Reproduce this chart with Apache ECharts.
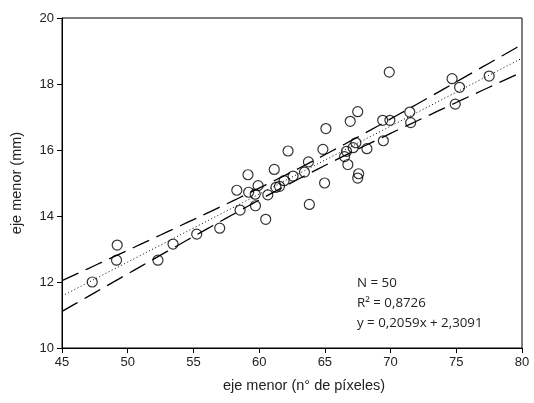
<!DOCTYPE html>
<html>
<head>
<meta charset="utf-8">
<script src="https://cdn.jsdelivr.net/npm/echarts@6/dist/echarts.min.js"></script>
<style>html,body{margin:0;padding:0;background:#fff}#c{width:534px;height:403px}</style>
</head>
<body>
<div id="c"></div>
<script>
// Scatter data
const xValues = [47.3,49.2,49.15,52.3,53.45,55.25,57.0,58.55,58.3,59.15,59.2,59.92,59.7,59.72,60.5,60.66,61.15,61.28,61.55,61.9,62.2,62.58,63.45,63.75,63.82,64.98,64.85,65.08,66.5,66.65,66.75,67.15,67.36,66.93,67.5,67.57,67.5,68.2,69.4,69.95,69.45,69.9,71.46,71.53,74.68,75.25,74.92,77.5];
const yValues = [12.0,13.12,12.66,12.66,13.15,13.45,13.63,14.18,14.78,15.25,14.72,14.92,14.66,14.31,13.9,14.64,15.41,14.87,14.9,15.07,15.97,15.21,15.33,15.64,14.35,15.0,16.02,16.65,15.8,15.96,15.56,16.07,16.22,16.87,17.16,15.28,15.15,16.04,16.9,16.9,16.28,18.36,17.15,16.83,18.16,17.9,17.39,18.24];
// Regression stated on the chart
const slope = 0.2059;
const intercept = 2.3091;
const xTicks = [45,50,55,60,65,70,75,80];
const yTicks = [10,12,14,16,18,20];
const statLines = ['N = 50','R\u00b2 = 0,8726','y = 0,2059x + 2,3091'];

const n = xValues.length;
const xbar = xValues.reduce((a,b)=>a+b,0)/n;
let sxx = 0, ssr = 0;
for (let i=0;i<n;i++){ sxx += (xValues[i]-xbar)**2; const r = yValues[i]-(slope*xValues[i]+intercept); ssr += r*r; }
const s = Math.sqrt(ssr/(n-2));
const tval = 2.011;
const fit = [], upper = [], lower = [];
for (let x = xTicks[0]; x <= xTicks[xTicks.length-1]+1e-9; x += 0.5) {
  const yh = slope*x + intercept;
  const hw = tval*s*Math.sqrt(1/n + (x-xbar)**2/sxx);
  fit.push([x, yh]); upper.push([x, yh+hw]); lower.push([x, yh-hw]);
}
const pts = xValues.map((x,i)=>[x,yValues[i]]);

const chart = echarts.init(document.getElementById('c'), null, {renderer:'canvas'});
const lab = {color:'#222', fontFamily:'Liberation Sans, Arial, sans-serif', fontSize:13};
chart.setOption({
  animation:false,
  grid:{left:62, right:12, top:18, bottom:55, show:true, borderColor:'#000', borderWidth:1},
  xAxis:{type:'value', min:45, max:80, interval:5,
    name:'eje menor (n\u00b0 de p\u00edxeles)', nameLocation:'middle', nameGap:30,
    nameTextStyle:{color:'#222', fontFamily:'Liberation Sans, Arial, sans-serif', fontSize:14.5, padding:[0,0,0,24]},
    axisLine:{show:true, lineStyle:{color:'#000', width:1}},
    axisTick:{show:true, inside:false, length:5, lineStyle:{color:'#000'}},
    axisLabel:Object.assign({margin:8}, lab),
    splitLine:{show:false}},
  yAxis:{type:'value', min:10, max:20, interval:2,
    name:'eje menor (mm)', nameLocation:'middle', nameGap:38, nameRotate:90,
    nameTextStyle:{color:'#222', fontFamily:'Liberation Sans, Arial, sans-serif', fontSize:14.5},
    axisLine:{show:true, lineStyle:{color:'#000', width:1}},
    axisTick:{show:true, inside:false, length:5, lineStyle:{color:'#000'}},
    axisLabel:Object.assign({margin:8}, lab),
    splitLine:{show:false}},
  series:[
    {type:'line', data:upper, showSymbol:false, symbol:'none', lineStyle:{color:'#000', width:1.3, type:[18,8]}, z:2},
    {type:'line', data:lower, showSymbol:false, symbol:'none', lineStyle:{color:'#000', width:1.3, type:[18,8]}, z:2},
    {type:'line', data:fit, showSymbol:false, symbol:'none', lineStyle:{color:'#000', width:1, type:[1,2.5]}, z:2},
    {type:'scatter', data:pts, symbol:'circle', symbolSize:10,
      itemStyle:{color:'rgba(255,255,255,0)', borderColor:'#000', borderWidth:1.2}, z:3}
  ],
  graphic:[{type:'group', left:357, top:277, children: statLines.map((t,i)=>({
    type:'text', x:0, y:i*20,
    style:{text:t, fill:'#222', font:'13.3px "Open Sans", sans-serif'}}))}]
});
</script>
</body>
</html>
